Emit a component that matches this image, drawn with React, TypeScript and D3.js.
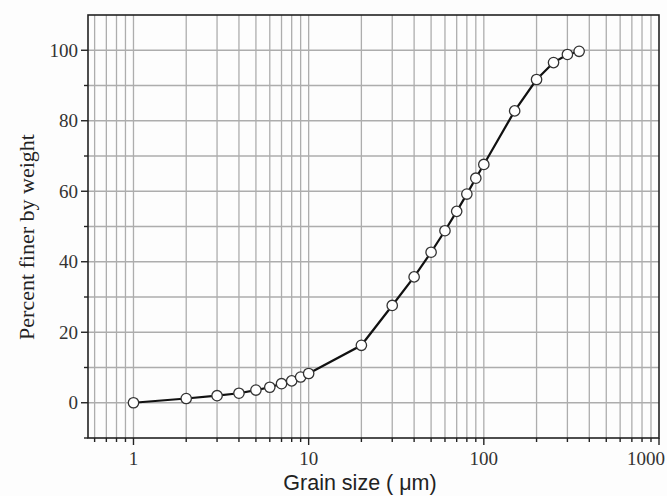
import React from "react";
import * as d3 from "d3";

// grain size (µm) and cumulative percent finer
const sizes = [1, 2, 3, 4, 5, 6, 7, 8, 9, 10, 20, 30, 40, 50, 60, 70, 80, 90, 100, 150, 200, 250, 300, 350];
const finer = [0, 1.2, 2.0, 2.7, 3.6, 4.4, 5.4, 6.2, 7.3, 8.3, 16.3, 27.6, 35.7, 42.7, 48.8, 54.3, 59.2, 63.7, 67.6, 82.8, 91.7, 96.5, 98.8, 99.7];

const xMajor = [1, 10, 100, 1000];
const xMinor = [0.6, 0.7, 0.8, 0.9, 2, 3, 4, 5, 6, 7, 8, 9, 20, 30, 40, 50, 60, 70, 80, 90, 200, 300, 400, 500, 600, 700, 800, 900];
const yMajor = [0, 20, 40, 60, 80, 100];
const yMinor = [-10, 10, 30, 50, 70, 90, 110];

export default function App() {
  const width = 667;
  const height = 496;
  const margin = { top: 15, right: 8, bottom: 58, left: 88 };

  const x = d3
    .scaleLog()
    .domain([0.55, 1000])
    .range([margin.left, width - margin.right]);
  const y = d3
    .scaleLinear()
    .domain([-10, 110])
    .range([height - margin.bottom, margin.top]);

  const line = d3
    .line<number>()
    .x((d, i) => x(sizes[i]))
    .y((d) => y(d));

  const x0 = margin.left;
  const x1 = width - margin.right;
  const y0 = height - margin.bottom;
  const y1 = margin.top;
  const grid = "#adadad";
  const serif = "'Liberation Serif', 'Times New Roman', serif";

  return (
    <svg
      width={width}
      height={height}
      style={{ position: "absolute", left: 0, top: 0, background: "#fdfdfd" }}
    >
      {/* grid */}
      <g stroke={grid} strokeWidth={1.3}>
        {[...xMajor, ...xMinor]
          .filter((v) => v < 1000)
          .map((v) => (
            <line key={"gx" + v} x1={x(v)} x2={x(v)} y1={y1} y2={y0} />
          ))}
        {[...yMajor, ...yMinor]
          .filter((v) => v > -10 && v < 110)
          .map((v) => (
            <line key={"gy" + v} x1={x0} x2={x1} y1={y(v)} y2={y(v)} />
          ))}
      </g>

      {/* data */}
      <path d={line(finer) || ""} fill="none" stroke="#111" strokeWidth={2.2} />
      <g fill="#fff" stroke="#333" strokeWidth={1.3}>
        {finer.map((v, i) => (
          <circle key={i} cx={x(sizes[i])} cy={y(v)} r={5.2} />
        ))}
      </g>

      {/* frame */}
      <rect x={x0} y={y1} width={x1 - x0} height={y0 - y1} fill="none" stroke="#222" strokeWidth={1.6} />

      {/* ticks */}
      <g stroke="#222" strokeWidth={1.4}>
        {xMajor.map((v) => (
          <line key={"tx" + v} x1={x(v)} x2={x(v)} y1={y0} y2={y0 + 7} />
        ))}
        {xMinor.map((v) => (
          <line key={"tm" + v} x1={x(v)} x2={x(v)} y1={y0} y2={y0 + 4} />
        ))}
        {yMajor.map((v) => (
          <line key={"ty" + v} x1={x0} x2={x0 - 7} y1={y(v)} y2={y(v)} />
        ))}
        {yMinor
          .filter((v) => v < 110)
          .map((v) => (
            <line key={"tn" + v} x1={x0} x2={x0 - 4} y1={y(v)} y2={y(v)} />
          ))}
      </g>

      {/* tick labels */}
      <g fontFamily={serif} fontSize={19} fill="#333">
        {xMajor.map((v) => (
          <text
            key={"lx" + v}
            x={v === 1000 ? 665 : x(v)}
            y={y0 + 27}
            textAnchor={v === 1000 ? "end" : "middle"}
          >
            {v}
          </text>
        ))}
        {yMajor.map((v) => (
          <text key={"ly" + v} x={x0 - 10} y={y(v) + 6.5} textAnchor="end">
            {v}
          </text>
        ))}
      </g>

      {/* axis titles */}
      <text
        transform={`translate(34, 237) rotate(-90)`}
        textAnchor="middle"
        fontFamily={serif}
        fontSize={22}
        fill="#222"
      >
        Percent finer by weight
      </text>
      <text
        x={360}
        y={490}
        textAnchor="middle"
        fontFamily="'Liberation Sans', Arial, sans-serif"
        fontSize={21.5}
        fill="#222"
      >
        Grain size ( μm)
      </text>
    </svg>
  );
}
